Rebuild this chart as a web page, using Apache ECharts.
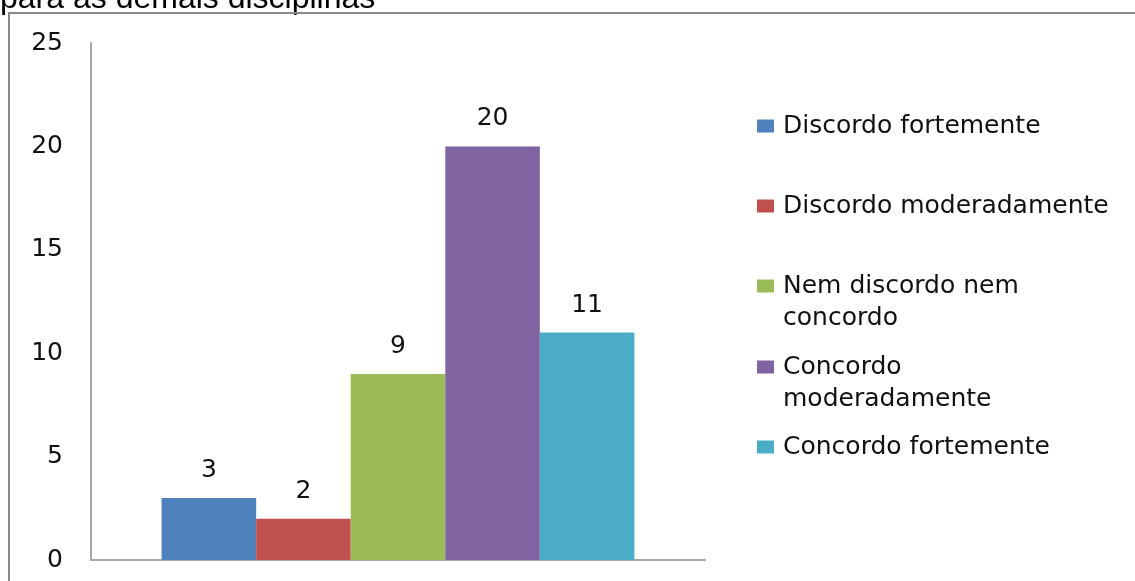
<!DOCTYPE html>
<html>
<head>
<meta charset="utf-8">
<title>Discordo / Concordo</title>
<script src="https://cdn.jsdelivr.net/npm/echarts@6/dist/echarts.min.js"></script>
<style>
  html, body { margin: 0; padding: 0; background: #fff; }
  #chart { width: 1135px; height: 581px; }
</style>
</head>
<body>
<div id="chart"></div>
<script>
// Response categories (one series per answer) and their counts
const seriesNames = [
  'Discordo fortemente',
  'Discordo moderadamente',
  'Nem discordo nem concordo',
  'Concordo moderadamente',
  'Concordo fortemente'
];
const seriesValues = [3, 2, 9, 20, 11];
const seriesColors = ['#4F81BD', '#C0504D', '#9BBB59', '#8064A2', '#4BACC6'];

// Legend text as laid out; a leading blank line keeps the swatch on the first text line
const legendLabels = [
  'Discordo fortemente',
  'Discordo moderadamente',
  '\nNem discordo nem\nconcordo',
  '\nConcordo\nmoderadamente',
  'Concordo fortemente'
];
const legendTops = [110, 190, 238, 319, 431];

// Value axis ticks
const yMin = 0, yMax = 25, yStep = 5;

const FONT = 'DejaVu Sans';
const FONT_SIZE = 25;

const chart = echarts.init(document.getElementById('chart'), null, { renderer: 'canvas' });

const series = seriesNames.map((name, i) => ({
  name: name,
  type: 'bar',
  data: [seriesValues[i]],
  barGap: '0%',
  barCategoryGap: '23%',
  itemStyle: { color: seriesColors[i] },
  label: {
    show: true,
    position: 'top',
    distance: 15,
    color: '#111',
    fontFamily: FONT,
    fontSize: FONT_SIZE,
    lineHeight: FONT_SIZE
  }
}));

const legends = seriesNames.map((name, i) => ({
  data: [name],
  orient: 'vertical',
  left: 757,
  top: legendTops[i],
  padding: 0,
  itemWidth: 17,
  itemHeight: 13,
  icon: 'rect',
  selectedMode: false,
  formatter: () => legendLabels[i],
  textStyle: {
    color: '#111',
    fontFamily: FONT,
    fontSize: FONT_SIZE,
    lineHeight: 32,
    padding: [0, 0, 0, 4]
  }
}));

chart.setOption({
  animation: false,
  backgroundColor: '#fff',
  grid: { left: 91, right: 430, top: 43, bottom: 21, containLabel: false },
  xAxis: {
    type: 'category',
    data: [''],
    axisLine: { show: true, lineStyle: { color: '#a6a6a6', width: 2 } },
    axisTick: { show: false },
    axisLabel: { show: false },
    splitLine: { show: false }
  },
  yAxis: {
    type: 'value',
    min: yMin,
    max: yMax,
    interval: yStep,
    axisLine: { show: true, lineStyle: { color: '#a6a6a6', width: 2 } },
    axisTick: { show: false },
    splitLine: { show: false },
    axisLabel: {
      margin: 28,
      color: '#111',
      fontFamily: FONT,
      fontSize: FONT_SIZE
    }
  },
  legend: legends,
  series: series,
  graphic: [
    {
      type: 'text',
      left: 0,
      top: -17,
      silent: true,
      style: {
        text: 'para as demais disciplinas',
        fill: '#000',
        font: '32px "Liberation Sans", Arial, sans-serif'
      }
    },
    {
      type: 'rect',
      silent: true,
      shape: { x: 9, y: 13, width: 1140, height: 600 },
      style: { fill: 'none', stroke: '#8a8a8a', lineWidth: 2 }
    }
  ]
});
</script>
</body>
</html>
